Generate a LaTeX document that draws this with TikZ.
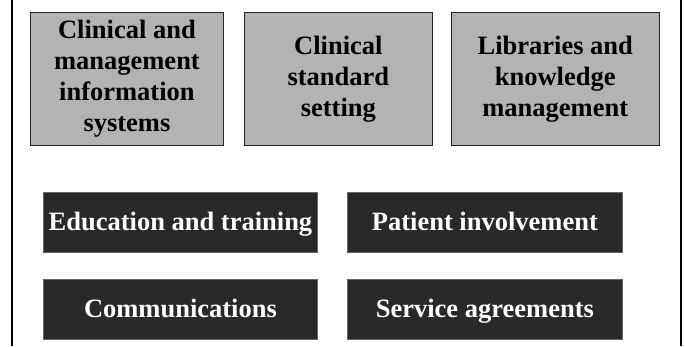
\documentclass[tikz,border=0pt]{standalone}
\usepackage{fontspec}
\setmainfont{Liberation Serif}
\usetikzlibrary{positioning}
\definecolor{grayfill}{RGB}{179,179,179}
\definecolor{darkfill}{RGB}{41,41,41}
\begin{document}
\begin{tikzpicture}[x=1pt, y=1pt, align=center,
  every node/.style={font=\fontsize{26.5}{31}\selectfont\bfseries, inner sep=0pt},
  graybox/.style={draw=black!85, line width=0.9pt, fill=grayfill, minimum height=133pt},
  darkbox/.style={draw=black!60, line width=0.9pt, fill=darkfill, text=white, minimum height=60pt, text height=20pt, text depth=4pt}]

\useasboundingbox (0,0) rectangle (685,-346);

% Frame
\draw[line width=1.3pt] (12,0) -- (12,-346);
\draw[line width=1.3pt] (681,0) -- (681,-346);

% Top row
\node (cmis) [graybox, minimum width=193pt, anchor=north west] at (30,-12) {Clinical and \\ management \\ information \\ systems};
\node (css) [graybox, minimum width=188pt, right=20pt of cmis] {Clinical \\ standard \\ setting};
\node (lkm) [graybox, minimum width=208pt, right=18pt of css] {Libraries and \\ knowledge \\ management};

% Lower rows
\node (edu) [darkbox, minimum width=274pt, anchor=north west] at (43,-192) {Education and training};
\node (pat) [darkbox, minimum width=275pt, right=29pt of edu] {Patient involvement};
\node (com) [darkbox, minimum width=274pt, below=26pt of edu] {Communications};
\node (sag) [darkbox, minimum width=275pt, below=26pt of pat] {Service agreements};

\end{tikzpicture}
\end{document}
